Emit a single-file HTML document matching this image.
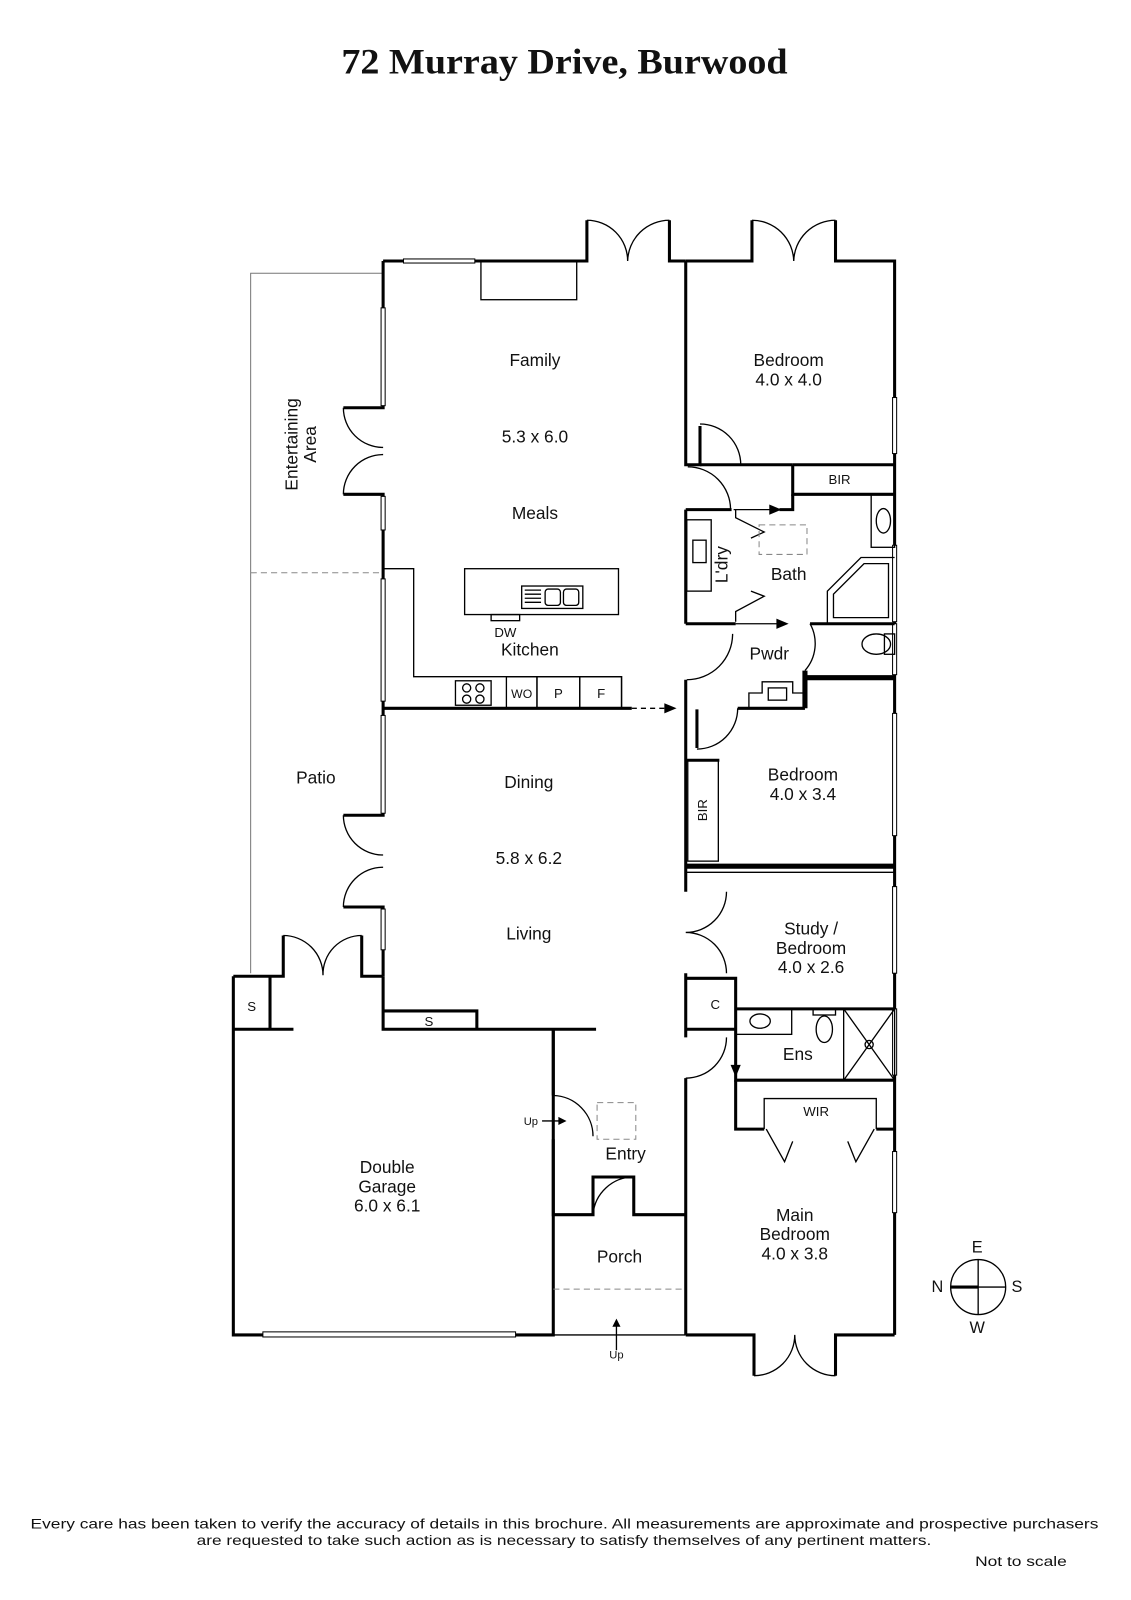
<!DOCTYPE html>
<html><head><meta charset="utf-8"><style>
html,body{margin:0;padding:0;background:#fff}
svg{display:block}
text{font-family:"Liberation Sans",sans-serif;fill:#111}
.w{stroke:#000;stroke-width:3;fill:none}
.t{stroke:#000;stroke-width:1.3;fill:none}
.g{stroke:#777;stroke-width:1;fill:none}
.d{stroke:#888;stroke-width:1;fill:none;stroke-dasharray:6 4}
.win{fill:#fff;stroke:#000;stroke-width:1}
</style></head><body>
<svg width="1131" height="1600" viewBox="0 0 1110 1570" xmlns="http://www.w3.org/2000/svg">
<text x="335" y="72" textLength="438" lengthAdjust="spacingAndGlyphs" style="font-family:'Liberation Serif',serif;font-weight:bold;font-size:35px">72 Murray Drive, Burwood</text>

<path class="g" d="M376 268 H246 V955"/>
<path class="d" d="M246 562 H376"/>

<path class="w" d="M376 256 H576 V216 M657 216 V256 H673"/>
<rect class="win" x="396" y="254" width="70" height="4"/>
<rect class="t" x="472" y="256" width="94" height="38"/>
<path class="t" d="M576 216 A40 40 0 0 1 616 256 M657 216 A41 41 0 0 0 616 256"/>

<path class="w" d="M376 256 V400 H337 M337 485 H376 V800 H337 M337 890 H376 V958"/>
<rect class="win" x="374" y="302" width="4" height="96"/>
<rect class="win" x="374" y="487" width="4" height="33"/>
<rect class="win" x="374" y="568" width="4" height="120"/>
<rect class="win" x="374" y="702" width="4" height="96"/>
<rect class="win" x="374" y="892" width="4" height="40"/>
<path class="t" d="M337 400 A39 39 0 0 0 376 439 M337 485 A39 39 0 0 1 376 446"/>
<path class="t" d="M337 800 A39 39 0 0 0 376 839 M337 890 A39 39 0 0 1 376 851"/>

<path class="w" d="M673 256 H738 V216 M820 216 V256 H878 V1310"/>
<path class="t" d="M738 216 A41 41 0 0 1 779 256 M820 216 A41 41 0 0 0 779 256"/>
<rect class="win" x="876" y="390" width="4" height="55"/>
<rect class="win" x="876" y="535" width="4" height="75"/>
<rect class="win" x="876" y="612" width="4" height="50"/>
<rect class="win" x="876" y="700" width="4" height="120"/>
<rect class="win" x="876" y="870" width="4" height="85"/>
<rect class="win" x="876" y="990" width="4" height="65"/>
<rect class="win" x="876" y="1130" width="4" height="60"/>

<path class="w" d="M673 256 V456 H687 V418 M673 500 V612 M673 667 V746 H706 M684 696 V734 M673 746 V875 M673 955 V1018 M673 1058 V1310"/>
<path class="t" d="M687 416 A40 40 0 0 1 727 456 M675 458 A42 42 0 0 1 717 500"/>
<path class="t" d="M719 622 A45 45 0 0 1 674 667 M724 695 A40 40 0 0 1 684 735"/>
<path class="w" d="M687 456 H778"/>
<path class="w" d="M778 456 V485 H878 M778 456 H878"/>
<text x="824" y="475" font-size="13" text-anchor="middle">BIR</text>
<path class="w" d="M673 500 H718 M765 500 H778 V485"/>
<path class="t" d="M720 500 H760"/>
<path d="M755 495 L767 500 L755 505Z"/>
<rect class="t" x="674" y="510" width="24" height="70"/>
<rect class="t" x="680" y="530" width="13" height="22"/>
<path class="t" d="M722 500 V508 L750 522 L737 528 M722 610 V600 L750 585 L737 580"/>
<rect class="d" x="745" y="515" width="47" height="29"/>
<rect class="t" x="855" y="485" width="23" height="52"/>
<ellipse class="t" cx="867" cy="511" rx="7" ry="12"/>
<path class="t" d="M812 612 V580 L845 547 H878 M818 606 V583 L848 553 H872 V606Z"/>
<path class="w" d="M673 612 H722 M795 612 H878"/>
<path class="t" d="M722 612 H765"/>
<path d="M762 607 L774 612 L762 617Z"/>
<path class="t" d="M795 612 A40 40 0 0 1 790 658"/>
<ellipse class="t" cx="860" cy="632" rx="14" ry="10"/>
<rect class="t" x="868" y="622" width="10" height="20"/>
<path class="w" d="M790 658 V695 M790 665 H878" style="stroke-width:5"/>
<path class="t" d="M735 695 V680 L748 680 V669 H778 V680 H790"/>
<rect class="t" x="754" y="675" width="18" height="12"/>
<path class="w" d="M724 695 H790"/>

<path class="t" d="M376 558 H406 V664 H610 V695"/>
<rect class="t" x="456" y="558" width="151" height="45"/>
<rect class="t" x="512" y="575" width="60" height="22"/>
<rect class="t" x="535" y="578" width="15" height="16" rx="3"/>
<rect class="t" x="553" y="578" width="15" height="16" rx="3"/>
<path class="t" d="M515 579 H531 M515 583 H531 M515 587 H531 M515 591 H531"/>
<rect class="t" x="482" y="603" width="28" height="6"/>
<rect class="t" x="447" y="668" width="35" height="24"/>
<circle class="t" cx="458" cy="675" r="4"/><circle class="t" cx="471" cy="675" r="4"/><circle class="t" cx="458" cy="686" r="4"/><circle class="t" cx="471" cy="686" r="4"/>
<rect class="t" x="497" y="664" width="30" height="31"/>
<rect class="t" x="527" y="664" width="42" height="31"/>
<rect class="t" x="569" y="664" width="41" height="31"/>
<text x="512" y="685" font-size="12" text-anchor="middle">WO</text>
<text x="548" y="685" font-size="13" text-anchor="middle">P</text>
<text x="590" y="685" font-size="13" text-anchor="middle">F</text>
<path class="w" d="M376 695 H620"/>
<path class="t" d="M620 695 H655" style="stroke-dasharray:5 4"/>
<path d="M652 690 L664 695 L652 700Z"/>

<rect class="t" x="675" y="746" width="30" height="99"/>
<text x="694" y="795" font-size="13" text-anchor="middle" transform="rotate(-90 694 795)">BIR</text>
<path class="w" d="M673 850 H878" style="stroke-width:5"/>
<path class="t" d="M673 856 H878"/>

<path class="t" d="M713 875 A40 40 0 0 1 673 915 M713 955 A40 40 0 0 0 673 915"/>
<path class="w" d="M673 960 H722 V1060 H878 M722 990 H878 M673 1010 H722"/>
<text x="702" y="990" font-size="13" text-anchor="middle">C</text>
<rect class="t" x="722" y="990" width="55" height="25"/>
<ellipse class="t" cx="746" cy="1002" rx="10" ry="7"/>
<rect class="t" x="798" y="990" width="22" height="6"/>
<ellipse class="t" cx="809" cy="1010" rx="8" ry="13"/>
<rect class="t" x="828" y="990" width="50" height="70"/>
<path class="t" d="M828 990 L878 1060 M878 990 L828 1060"/>
<circle class="t" cx="853" cy="1025" r="4"/>
<path class="t" d="M713 1018 A40 40 0 0 1 673 1058"/>
<path class="t" d="M722 1020 V1048"/>
<path d="M717 1045 L722 1057 L727 1045Z"/>

<path class="t" d="M750 1108 V1078 H860 V1108"/>
<text x="801" y="1095" font-size="13" text-anchor="middle">WIR</text>
<path class="w" d="M722 1060 V1108 H750 M860 1108 H878"/>
<path class="t" d="M752 1108 L770 1140 L778 1120 M858 1108 L840 1140 L832 1120"/>
<path class="w" d="M673 1310 H740 V1350 M820 1350 V1310 H878"/>
<path class="t" d="M740 1350 A40 40 0 0 0 780 1310 M820 1350 A40 40 0 0 1 780 1310"/>

<path class="w" d="M229 958 H278 V918 M355 918 V958 H376 M229 958 V1310 H543 V1010 M229 1010 H288 M265 958 V1010"/>
<path class="t" d="M278 918 A39 39 0 0 1 317 957 M355 918 A38 38 0 0 0 317 957"/>
<text x="247" y="992" font-size="13" text-anchor="middle">S</text>
<rect class="win" x="258" y="1307" width="248" height="5"/>
<path class="w" d="M376 958 V1010 H468 V992 H376 M468 1010 H585"/>
<text x="421" y="1007" font-size="13" text-anchor="middle">S</text>
<path class="w" d="M543 1010 V1075"/>
<path class="t" d="M543 1075 A40 40 0 0 1 582 1115"/>
<path class="w" d="M543 1118 V1192 H582 V1155 H622 V1192 H673"/>
<path class="t" d="M582 1192 A40 40 0 0 1 622 1155"/>
<rect class="d" x="586" y="1082" width="38" height="36"/>
<text x="521" y="1104" font-size="11" text-anchor="middle">Up</text>
<path class="t" d="M532 1100 H550"/><path d="M548 1096 L556 1100 L548 1104Z"/>
<path class="d" d="M543 1265 H673"/>
<path class="t" d="M543 1310 H673 M605 1325 V1300"/><path d="M601 1302 L605 1294 L609 1302Z"/>
<text x="605" y="1333" font-size="11" text-anchor="middle">Up</text>

<g font-size="17" text-anchor="middle">
<text x="525" y="359">Family</text>
<text x="525" y="434">5.3 x 6.0</text>
<text x="525" y="509">Meals</text>
<text x="520" y="643">Kitchen</text>
<text x="496" y="625" font-size="13">DW</text>
<text x="519" y="773">Dining</text>
<text x="519" y="848">5.8 x 6.2</text>
<text x="519" y="922">Living</text>
<text x="310" y="769">Patio</text>
<text x="774" y="359">Bedroom</text><text x="774" y="378">4.0 x 4.0</text>
<text x="774" y="569">Bath</text>
<text x="755" y="647">Pwdr</text>
<text x="788" y="766">Bedroom</text><text x="788" y="785">4.0 x 3.4</text>
<text x="796" y="917">Study /</text><text x="796" y="936">Bedroom</text><text x="796" y="955">4.0 x 2.6</text>
<text x="783" y="1040">Ens</text>
<text x="614" y="1138">Entry</text>
<text x="608" y="1239">Porch</text>
<text x="780" y="1198">Main</text><text x="780" y="1217">Bedroom</text><text x="780" y="1236">4.0 x 3.8</text>
<text x="380" y="1151">Double</text><text x="380" y="1170">Garage</text><text x="380" y="1189">6.0 x 6.1</text>
<text x="714" y="554" transform="rotate(-90 714 554)">L'dry</text>
<text x="292" y="436" transform="rotate(-90 292 436)">Entertaining</text>
<text x="310" y="436" transform="rotate(-90 310 436)">Area</text>
</g>

<circle cx="960" cy="1263" r="27" fill="none" stroke="#000" stroke-width="1.3"/>
<path d="M960 1236 V1290 M960 1263 H987" stroke="#000" stroke-width="1.3"/>
<path d="M933 1263 H960" stroke="#000" stroke-width="3"/>
<g font-size="16" text-anchor="middle"><text x="959" y="1229">E</text><text x="959" y="1308">W</text><text x="920" y="1268">N</text><text x="998" y="1268">S</text></g>

<g font-size="14">
<text x="30" y="1500" textLength="1048" lengthAdjust="spacingAndGlyphs">Every care has been taken to verify the accuracy of details in this brochure.  All measurements are approximate and prospective purchasers</text>
<text x="193" y="1516" textLength="721" lengthAdjust="spacingAndGlyphs">are requested to take such action as is necessary to satisfy themselves of any pertinent matters.</text>
<text x="957" y="1537" textLength="90" lengthAdjust="spacingAndGlyphs">Not to scale</text>
</g>
</svg>
</body></html>
